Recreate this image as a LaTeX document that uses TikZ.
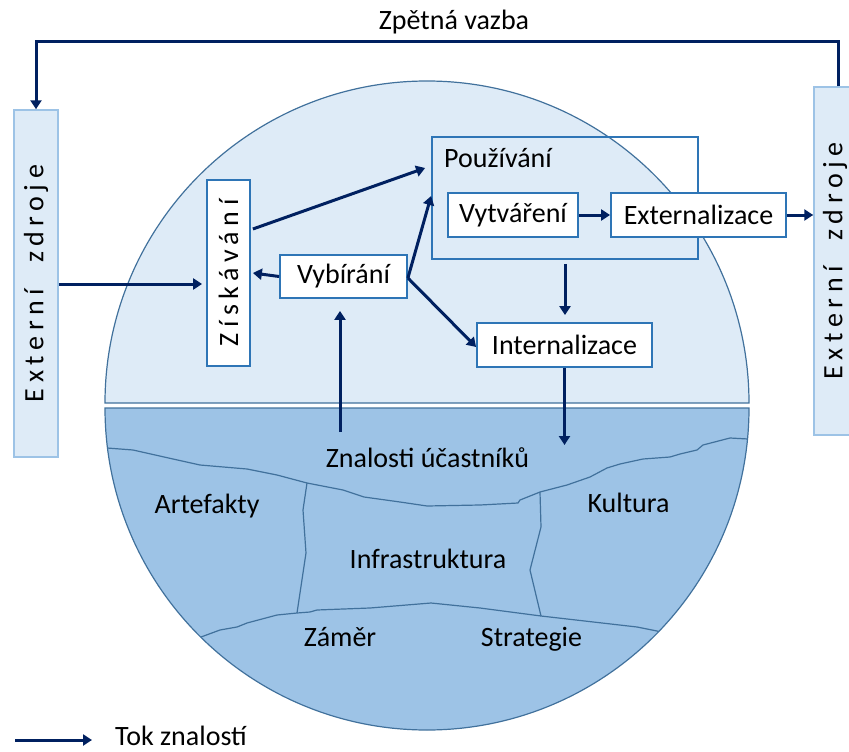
\documentclass[tikz,border=0pt]{standalone}
\usepackage{fontspec}
\usepackage{graphicx}
\setmainfont{Carlito}
\usetikzlibrary{arrows.meta,calc}
\definecolor{navy}{RGB}{0,32,96}
\definecolor{boxblue}{RGB}{46,117,182}
\definecolor{edge}{RGB}{65,113,156}
\definecolor{upperfill}{RGB}{222,235,247}
\definecolor{lowerfill}{RGB}{157,195,230}
\definecolor{extedge}{RGB}{157,195,230}
\newcommand\myfs{\fontsize{28}{32}\selectfont}
\newcommand\spaced[1]{{\addfontfeatures{LetterSpace=20}#1}}
\begin{document}
\begin{tikzpicture}[x=1pt,y=-1pt,
  flow/.style={draw=navy,line width=3pt,-{Triangle[length=9pt,width=11pt]}},
  wbox/.style={draw=boxblue,line width=1.8pt,fill=white,inner sep=0pt,font=\myfs},
  ebox/.style={draw=extedge,fill=upperfill,line width=1.5pt,inner sep=0pt,font=\myfs},
  crack/.style={draw=edge,line width=1.2pt},
  lbl/.style={font=\myfs,inner sep=0pt,anchor=base}]
\useasboundingbox (0,0) rectangle (849,752);
\clip (0,0) rectangle (849,752);

% external sources
\node[ebox,minimum width=44pt,minimum height=347pt] (extL) at (36,283.5)
  {\rotatebox{90}{\spaced{Externí\hspace{26pt}zdroje}}};
\node[ebox,minimum width=48pt,minimum height=348pt] (extR) at (838,261) {};
\node[font=\myfs,inner sep=0pt] (extRt) at (835,261)
  {\rotatebox{90}{\spaced{Externí\hspace{26pt}zdroje}}};

% upper half
\filldraw[fill=upperfill,draw=edge,line width=1.2pt]
  (105,403) arc[start angle=180,end angle=360,radius=322] -- cycle;
% lower half
\fill[lowerfill] (105,408) arc[start angle=180,end angle=0,radius=322] -- cycle;
\begin{scope}
\clip (105,408) arc[start angle=180,end angle=0,radius=322] -- cycle;
\draw[crack] (100,448) -- (107,448) -- (133,450) -- (173,459) -- (200,465) -- (247,469)
  -- (277,475) -- (307,483) -- (343,490) -- (364,497) -- (400,502) -- (427,506)
  -- (480,505) -- (518,503) -- (520,500) -- (540,492) -- (567,485) -- (590,477)
  -- (607,468) -- (620,464) -- (643,459) -- (670,457) -- (680,454) -- (697,450)
  -- (703,445) -- (730,438) -- (748,439) -- (760,439);
\draw[crack] (307,483) -- (303,510) -- (306,553) -- (297,613);
\draw[crack] (540,492) -- (541,527) -- (530,570) -- (541,616);
\draw[crack] (195,640) -- (201,637) -- (220,630) -- (237,627) -- (247,623) -- (277,615)
  -- (297,613) -- (310,612) -- (317,610) -- (370,608) -- (431,603) -- (480,608)
  -- (541,616) -- (637,627) -- (657,631) -- (665,634);
\end{scope}
\draw[edge,line width=1.2pt] (105,408) arc[start angle=180,end angle=0,radius=322] -- cycle;

% labels in the circle
\node[lbl] (zn) at (427.5,467) {Znalosti účastníků};
\node[lbl] (art) at (207,513) {Artefakty};
\node[lbl] (kul) at (628.5,512) {Kultura};
\node[lbl] (inf) at (428,568) {Infrastruktura};
\node[lbl] (zam) at (340,646) {Záměr};
\node[lbl] (str) at (531.5,646) {Strategie};

% title
\node[lbl] (zv) at (454,30) {Zpětná vazba};

% process boxes
\node[draw=boxblue,line width=1.8pt,inner sep=0pt,minimum width=266pt,minimum height=122pt] (pouz) at (565,198) {};
\node[lbl,anchor=base west] (pouzl) at (444,167) {Používání};
\node[wbox,minimum width=43pt,minimum height=186pt] (zisk) at (228.5,273)
  {\rotatebox{90}{\spaced{Získávání}}};
\node[wbox,minimum width=127pt,minimum height=43pt] (vyb) at (343.5,276.5) {Vybírání\hspace{12pt}};
\node[wbox,minimum width=130pt,minimum height=44pt] (vytv) at (513,215) {Vytváření};
\node[wbox,minimum width=175pt,minimum height=44pt] (ext) at (698.5,215) {Externalizace};
\node[wbox,minimum width=175pt,minimum height=44pt] (int) at (564.5,345) {Internalizace};

% connectors
\draw[flow] (extL.east |- 0,284) -- ([xshift=-4pt]zisk.west |- 0,284);
\draw[flow] (vyb.west) -- ([xshift=2pt]zisk.east);
\draw[flow] ([shift={(2,-44)}]zisk.east) -- ([shift={(-6,-30)}]pouz.west);
\draw[flow] ([yshift=-1.5pt]vyb.east) -- ([yshift=2pt]pouz.west);
\draw[flow] ([yshift=-1.5pt]vyb.east) -- ([yshift=-2pt]int.west);
\coordinate (znb) at (340,432);
\draw[flow,shorten >=12pt] (znb) -- (znb |- vyb.south);
\draw[flow,shorten <=4pt,shorten >=7pt] (pouz.south) -- (pouz.south |- int.north);
\coordinate (intb) at (564.5,445);
\draw[flow] (int.south) -- (intb);
\draw[flow] (vytv.east) -- (ext.west);
\draw[flow] (ext.east) -- (ext.east -| extR.west);
\draw[flow] (extR.north) -- ++(0,-45) -| (extL.north);

% legend
\coordinate (lg1) at (15,740);
\coordinate (lg2) at (92,740);
\draw[flow] (lg1) -- (lg2);
\node[lbl,anchor=base west] (lgt) at (115,745) {Tok znalostí};
\end{tikzpicture}
\end{document}
